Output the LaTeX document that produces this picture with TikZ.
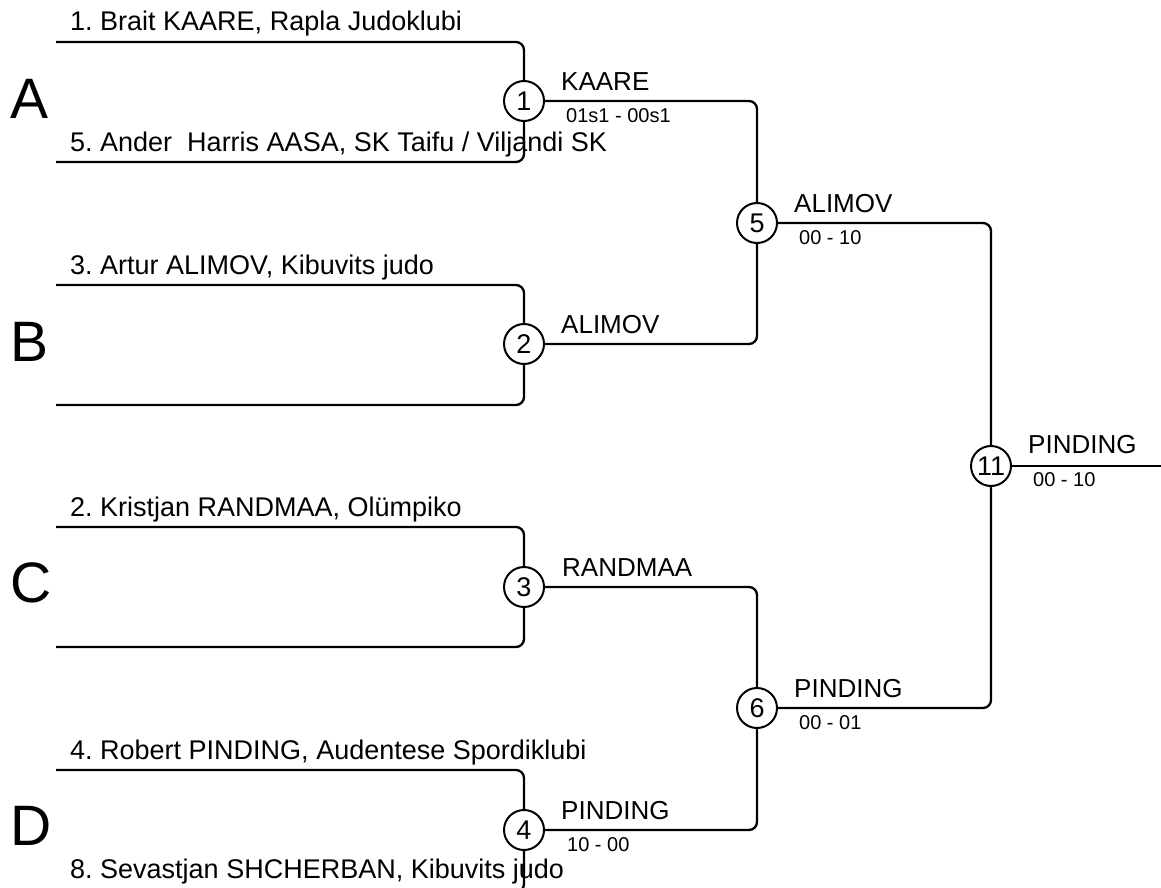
\documentclass[tikz,border=0pt]{standalone}
\usepackage{fontspec}
\setmainfont{Liberation Sans}
\frenchspacing
\begin{document}
\begin{tikzpicture}[x=1pt,y=-1pt,
  rnd/.style={circle,draw,fill=white,minimum size=40pt,inner sep=0pt,line width=2pt,font=\fontsize{27}{27}\selectfont},
  entrant/.style={anchor=base west,inner sep=0pt,font=\fontsize{27}{30}\selectfont},
  winner/.style={anchor=base west,inner sep=0pt,font=\fontsize{26}{30}\selectfont},
  score/.style={anchor=base west,inner sep=0pt,font=\fontsize{20}{24}\selectfont},
  pool/.style={anchor=base west,inner sep=0pt,font=\fontsize{57}{60}\selectfont},
  wire/.style={line width=2.3pt,rounded corners=8pt}]
\useasboundingbox (0,0) rectangle (1161,888);

% pool letters
\node[pool] (pa) at (10,118) {A};
\node[pool] (pb) at (10,361) {B};
\node[pool] (pc) at (10,602) {C};
\node[pool] (pd) at (10,845) {D};

% entrants
\node[entrant] (e1) at (70,31) {1. Brait KAARE, Rapla Judoklubi};
\node[entrant] (e5) at (70,151) {5. Ander~~Harris AASA, SK Taifu / Viljandi SK};
\node[entrant] (e3) at (70,274) {3. Artur ALIMOV, Kibuvits judo};
\node[entrant] (e2) at (70,516) {2. Kristjan RANDMAA, Olümpiko};
\node[entrant] (e4) at (70,759) {4. Robert PINDING, Audentese Spordiklubi};
\node[entrant] (e8) at (70,878) {8. Sevastjan SHCHERBAN, Kibuvits judo};

% bracket line starts
\coordinate (pA1) at (56,42);
\coordinate (pA2) at (56,162);
\coordinate (pB1) at (56,285);
\coordinate (pB2) at (56,405);
\coordinate (pC1) at (56,527);
\coordinate (pC2) at (56,647);
\coordinate (pD1) at (56,770);
\coordinate (pD2) at (56,892);
\coordinate (fin) at (1161,466);

% wires
\draw[wire] (pA1) -| (524,101);
\draw[wire] (pA2) -| (524,101);
\draw[wire] (pB1) -| (524,344);
\draw[wire] (pB2) -| (524,344);
\draw[wire] (pC1) -| (524,587);
\draw[wire] (pC2) -| (524,587);
\draw[wire] (pD1) -| (524,830);
\draw[wire] (pD2) -| (524,830);
\draw[wire] (524,101) -| (757,223);
\draw[wire] (524,344) -| (757,223);
\draw[wire] (524,587) -| (757,708);
\draw[wire] (524,830) -| (757,708);
\draw[wire] (757,223) -| (991,466);
\draw[wire] (757,708) -| (991,466);
\draw[wire] (991,466) -- (fin);

% rounds
\node[rnd] (n1) at (524,101) {1};
\node[rnd] (n2) at (524,344) {2};
\node[rnd] (n3) at (524,587) {3};
\node[rnd] (n4) at (524,830) {4};
\node[rnd] (n5) at (757,223) {5};
\node[rnd] (n6) at (757,708) {6};
\node[rnd] (n11) at (991,466) {11};

% winners and scores
\node[winner] (w1) at (561,91) {KAARE};
\node[score] (s1) at (566,123) {01s1 - 00s1};
\node[winner] (w2) at (561,333) {ALIMOV};
\node[winner] (w3) at (562,576) {RANDMAA};
\node[winner] (w4) at (561,819) {PINDING};
\node[score] (s4) at (567,851) {10 - 00};
\node[winner] (w5) at (794,212) {ALIMOV};
\node[score] (s5) at (799,244) {00 - 10};
\node[winner] (w6) at (794,697) {PINDING};
\node[score] (s6) at (799,729) {00 - 01};
\node[winner] (w11) at (1028,453) {PINDING};
\node[score] (s11) at (1033,486) {00 - 10};
\end{tikzpicture}
\end{document}
